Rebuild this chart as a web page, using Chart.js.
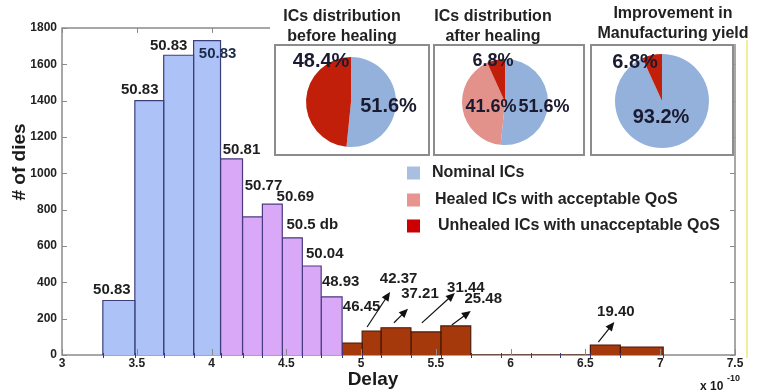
<!DOCTYPE html>
<html>
<head>
<meta charset="utf-8">
<script src="https://cdn.jsdelivr.net/npm/chart.js@4.4.1/dist/chart.umd.min.js"></script>
<style>
  body { margin: 0; background: #fff; }
  #wrap { position: relative; width: 760px; height: 392px; overflow: hidden; font-family: "Liberation Sans", Arial, sans-serif; }
  #main { position: absolute; left: 0; top: 0; }
  .cover { position: absolute; left: 270px; top: 0; width: 470px; height: 44px; background: #fff; }
  .ttl { position: absolute; font-weight: bold; font-size: 16px; line-height: 20px; text-align: center; color: #222; white-space: nowrap; transform: translateX(-50%); }
  .box { position: absolute; top: 44px; height: 112px; border: 2px solid #8c8c8c; box-sizing: border-box; background: #fff; }
  .box canvas { display: block; }
  .yline { position: absolute; left: 746px; top: 40px; width: 2px; height: 318px; background: #f3ee9a; }
</style>
</head>
<body>
<div id="wrap">
  <canvas id="main" width="760" height="392"></canvas>
  <div class="cover"></div>
  <div class="ttl" style="left:342px;top:6px">ICs distribution<br>before healing</div>
  <div class="ttl" style="left:493px;top:6px">ICs distribution<br>after healing</div>
  <div class="ttl" style="left:673px;top:3px">Improvement in<br>Manufacturing yield</div>
  <div class="box" style="left:274px;width:156px"><canvas id="pieBefore" width="152" height="108"></canvas></div>
  <div class="box" style="left:433px;width:152px"><canvas id="pieAfter" width="148" height="108"></canvas></div>
  <div class="box" style="left:590px;width:144px"><canvas id="pieYield" width="140" height="108"></canvas></div>
  <div class="yline"></div>
</div>
<script>
// histogram bins (delay in units of 1e-10 s)
const binEdges = [3.273, 3.487, 3.68, 3.88, 4.06, 4.207, 4.34, 4.473, 4.607, 4.733, 4.873,
  5.007, 5.133, 5.333, 5.533, 5.733, 5.933, 6.133, 6.333, 6.533, 6.733, 7.02];
const dieCounts = [300, 1400, 1650, 1730, 1080, 760, 830, 645, 490, 320, 66,
  132, 150, 127, 160, 0, 0, 0, 0, 55, 44];
const binGroup = ['nominal', 'nominal', 'nominal', 'nominal',
  'healed', 'healed', 'healed', 'healed', 'healed', 'healed',
  'unhealed', 'unhealed', 'unhealed', 'unhealed', 'unhealed', 'unhealed',
  'unhealed', 'unhealed', 'unhealed', 'unhealed', 'unhealed'];
const binLabels = ['50.83', '50.83', '50.83', '50.83', '50.81', '50.77', '50.69', '50.5 db', '50.04', '48.93', '46.45',
  '42.37', '37.21', '31.44', '25.48', '', '', '', '', '19.40', ''];

const xMin = 3, xMax = 7.5, xStep = 0.5;
const yMin = 0, yMax = 1800, yStep = 200;

const groupKeys = ['nominal', 'healed', 'unhealed'];
const legendLabels = ['Nominal ICs', 'Healed ICs with acceptable QoS', 'Unhealed ICs with unacceptable QoS'];

const pieBefore = [51.6, 48.4];
const pieBeforeGroups = ['nominal', 'unhealed'];
const pieAfter = [51.6, 41.6, 6.8];
const pieAfterGroups = ['nominal', 'healed', 'unhealed'];
const pieYield = [93.2, 6.8];
const pieYieldGroups = ['nominal', 'unhealed'];

// styles
const FONT = '"Liberation Sans", Arial, sans-serif';
const barFill = { nominal: '#adc3f8', healed: '#d9a9f7', unhealed: '#a5390c' };
const barEdge = { nominal: '#3e3e7a', healed: '#4a3a80', unhealed: '#4d1604' };
const pieFill = { nominal: '#93b1da', healed: '#e3918b', unhealed: '#c21f0a' };
const legendFill = { nominal: '#a9bfe2', healed: '#e8948f', unhealed: '#cc0000' };

// label placement, px offset from bar top centre
const labelOffset = {
  0: [-7, -11], 1: [-9.5, -10.5], 2: [-10, -9], 3: [10.5, 13.5], 4: [10, -9],
  5: [11, -31], 6: [23, -7], 7: [20, -12.5], 8: [13, -12.5], 9: [9, -15],
  10: [9.5, -36], 11: [27, -52], 12: [24, -34], 13: [40, -44.5], 14: [27.5, -27], 19: [10.5, -33]
};
// arrows: tail dx,dy, head dx,dy from bar top centre
const arrowOffset = {
  11: [-4.5, -4, 18.5, -39], 12: [-2, -5, 12, -19], 13: [-4, -9, 29, -39],
  14: [-4, -1, 15, -15], 19: [-7, -3, 9, -23]
};

function drawArrow(ctx, x0, y0, x1, y1) {
  const ang = Math.atan2(y1 - y0, x1 - x0);
  const len = 9, half = 4;
  ctx.beginPath();
  ctx.moveTo(x0, y0);
  ctx.lineTo(x1 - Math.cos(ang) * len * 0.8, y1 - Math.sin(ang) * len * 0.8);
  ctx.stroke();
  ctx.beginPath();
  ctx.moveTo(x1, y1);
  ctx.lineTo(x1 - Math.cos(ang) * len + Math.sin(ang) * half, y1 - Math.sin(ang) * len - Math.cos(ang) * half);
  ctx.lineTo(x1 - Math.cos(ang) * len - Math.sin(ang) * half, y1 - Math.sin(ang) * len + Math.cos(ang) * half);
  ctx.closePath();
  ctx.fill();
}

const histFrame = {
  id: 'histFrame',
  beforeDatasetsDraw(chart) {
    const { ctx, chartArea: a } = chart;
    ctx.save();
    ctx.strokeStyle = '#8a8a8a';
    ctx.lineWidth = 1.5;
    ctx.strokeRect(a.left, a.top, a.right - a.left, a.bottom - a.top);
    ctx.restore();
  },
  afterDatasetsDraw(chart) {
    const { ctx, chartArea: a, scales: { x, y } } = chart;
    ctx.save();
    // inward tick marks
    ctx.strokeStyle = '#8a8a8a';
    ctx.lineWidth = 1;
    ctx.beginPath();
    y.ticks.forEach(t => {
      const py = Math.round(y.getPixelForValue(t.value)) + 0.5;
      ctx.moveTo(a.left, py); ctx.lineTo(a.left + 5, py);
      ctx.moveTo(a.right, py); ctx.lineTo(a.right - 5, py);
    });
    x.ticks.forEach(t => {
      const px = Math.round(x.getPixelForValue(t.value)) + 0.5;
      ctx.moveTo(px, a.top); ctx.lineTo(px, a.top + 5);
      ctx.moveTo(px, a.bottom); ctx.lineTo(px, a.bottom - 6);
    });
    ctx.stroke();
    // bin edge markers on the axis
    ctx.strokeStyle = '#34348a';
    ctx.beginPath();
    binEdges.forEach(e => {
      const px = Math.round(x.getPixelForValue(e)) + 0.5;
      ctx.moveTo(px, a.bottom - 2); ctx.lineTo(px, a.bottom + 3);
    });
    ctx.stroke();

    // bar annotations
    ctx.font = 'bold 15px ' + FONT;
    ctx.textAlign = 'center';
    ctx.textBaseline = 'middle';
    ctx.lineWidth = 1.2;
    binLabels.forEach((txt, i) => {
      if (!txt) return;
      const cx = (x.getPixelForValue(binEdges[i]) + x.getPixelForValue(binEdges[i + 1])) / 2;
      const top = y.getPixelForValue(dieCounts[i]);
      const o = labelOffset[i] || [0, -10];
      ctx.fillStyle = i === 3 ? '#1b2a4a' : '#1e1e1e';
      ctx.fillText(txt, cx + o[0], top + o[1]);
      const ar = arrowOffset[i];
      if (ar) {
        ctx.strokeStyle = '#111';
        ctx.fillStyle = '#111';
        drawArrow(ctx, cx + ar[0], top + ar[1], cx + ar[2], top + ar[3]);
      }
    });

    // legend
    ctx.textAlign = 'left';
    ctx.font = 'bold 16px ' + FONT;
    const legX = [432, 435, 438], legY = [173, 200, 226];
    groupKeys.forEach((k, i) => {
      ctx.fillStyle = legendFill[k];
      ctx.fillRect(407, legY[i] - 6.5, 13, 13);
      ctx.fillStyle = '#222';
      ctx.fillText(legendLabels[i], legX[i], legY[i]);
    });

    // axis titles
    ctx.fillStyle = '#1a1a1a';
    ctx.textAlign = 'center';
    ctx.font = 'bold 19px ' + FONT;
    ctx.fillText('Delay', 373, 380);
    ctx.save();
    ctx.translate(20, 162);
    ctx.rotate(-Math.PI / 2);
    ctx.fillText('# of dies', 0, 0);
    ctx.restore();
    ctx.font = 'bold 12px ' + FONT;
    ctx.textAlign = 'left';
    ctx.fillText('x 10', 700, 387);
    ctx.font = 'bold 9px ' + FONT;
    ctx.fillText('-10', 727, 379);
    ctx.restore();
  }
};

const tickFont = { family: FONT, size: 12, weight: 'bold' };

new Chart(document.getElementById('main'), {
  type: 'line',
  data: {
    datasets: dieCounts.map((c, i) => ({
      // outline of one histogram bin, filled down to zero
      data: [
        { x: binEdges[i], y: 0 }, { x: binEdges[i], y: c },
        { x: binEdges[i + 1], y: c }, { x: binEdges[i + 1], y: 0 }
      ],
      fill: 'origin',
      backgroundColor: barFill[binGroup[i]],
      borderColor: barEdge[binGroup[i]],
      borderWidth: 1.2,
      pointRadius: 0,
      tension: 0
    }))
  },
  options: {
    responsive: false,
    animation: false,
    events: [],
    layout: { padding: { top: 28, right: 25, left: 0, bottom: 0 } },
    plugins: { legend: { display: false }, tooltip: { enabled: false } },
    scales: {
      x: {
        type: 'linear', min: xMin, max: xMax,
        ticks: { stepSize: xStep, font: tickFont, color: '#222', padding: 1, maxRotation: 0, autoSkip: false, callback: v => String(v) },
        grid: { display: false, drawTicks: false }, border: { display: false },
        afterFit(s) { s.height = 37; }
      },
      y: {
        min: yMin, max: yMax,
        ticks: { stepSize: yStep, font: tickFont, color: '#222', padding: 5, callback: v => String(v) },
        grid: { display: false, drawTicks: false }, border: { display: false },
        afterFit(s) { s.width = 62; }
      }
    }
  },
  plugins: [histFrame]
});

const pieText = {
  id: 'pieText',
  afterDatasetsDraw(chart, args, opts) {
    const arc = chart.getDatasetMeta(0).data[0];
    const ctx = chart.ctx;
    ctx.save();
    ctx.font = 'bold ' + opts.size + 'px ' + FONT;
    ctx.fillStyle = '#1a1a30';
    ctx.textAlign = 'center';
    ctx.textBaseline = 'middle';
    chart.data.datasets[0].data.forEach((v, i) => {
      const o = opts.offsets[i];
      ctx.fillText(v.toFixed(1) + '%', arc.x + o[0], arc.y + o[1]);
    });
    ctx.restore();
  }
};

function makePie(id, values, groups, padding, offsets, size) {
  return new Chart(document.getElementById(id), {
    type: 'pie',
    data: {
      labels: groups.map(g => legendLabels[groupKeys.indexOf(g)]),
      datasets: [{ data: values, backgroundColor: groups.map(g => pieFill[g]), borderWidth: 0 }]
    },
    options: {
      responsive: false,
      animation: false,
      events: [],
      layout: { padding },
      plugins: { legend: { display: false }, tooltip: { enabled: false }, pieText: { offsets, size } }
    },
    plugins: [pieText]
  });
}

makePie('pieBefore', pieBefore, pieBeforeGroups, { top: 11, bottom: 7, left: 0, right: 2 }, [[37.5, 4.5], [-30, -40.5]], 20);
makePie('pieAfter', pieAfter, pieAfterGroups, { top: 13, bottom: 9, left: 0, right: 8 }, [[39, 5], [-14, 5], [-12, -40.5]], 18);
makePie('pieYield', pieYield, pieYieldGroups, { top: 8, bottom: 6, left: 0, right: 0 }, [[-1, 16.5], [-27, -39]], 20);
</script>
</body>
</html>
